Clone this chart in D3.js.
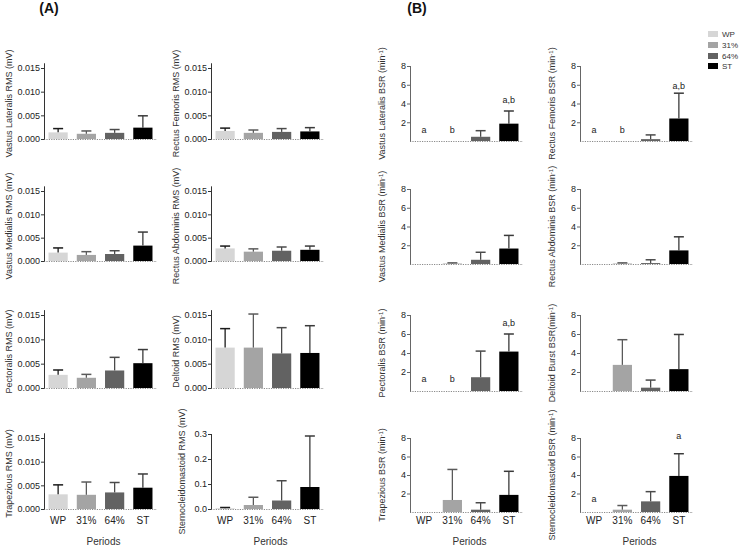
<!DOCTYPE html>
<html><head><meta charset="utf-8">
<script src="https://cdn.jsdelivr.net/npm/d3@7"></script>
<style>body{margin:0;background:#fff} svg{font-family:"Liberation Sans",Arial,sans-serif}</style>
</head><body><svg id="c" width="740" height="547"></svg>
<script>
const periods = ["WP","31%","64%","ST"];
const barColors = ["#d6d6d6","#a4a4a4","#626262","#000000"];
const errColors = ["#1a1a1a","#5a5a5a","#4a4a4a","#3a3a3a"];

// Panel A: RMS (mV)
const rmsTitles = ["Vastus Lateralis RMS  (mV)","Rectus Femoris RMS (mV)","Vastus Medialis RMS (mV)","Rectus Abdominis  RMS (mV)","Pectoralis  RMS (mV)","Deltoid RMS (mV)","Trapezious  RMS (mV)","Sternocleidomastoid RMS (mV)"];
const rmsMeans = [
  [0.0014,0.0011,0.0013,0.0024],
  [0.0017,0.0013,0.0015,0.0016],
  [0.0018,0.0013,0.0015,0.0033],
  [0.0027,0.0020,0.0022,0.0024],
  [0.0027,0.0021,0.0036,0.0051],
  [0.0083,0.0083,0.0071,0.0072],
  [0.0031,0.0030,0.0035,0.0045],
  [0.003,0.016,0.034,0.088]
];
const rmsSD = [
  [0.0008,0.0006,0.0007,0.0025],
  [0.0006,0.0006,0.0007,0.0008],
  [0.0010,0.0007,0.0007,0.0029],
  [0.0005,0.0006,0.0008,0.0008],
  [0.0010,0.0007,0.0027,0.0028],
  [0.0039,0.0069,0.0053,0.0056],
  [0.0020,0.0027,0.0021,0.0029],
  [0.003,0.031,0.079,0.204]
];
const rmsTicks = [0,0.005,0.010,0.015];
const scmTicks = [0,0.1,0.2,0.3];

// Panel B: BSR (min^-1)
const bsrTitles = ["Vastus Lateralis BSR (min","Rectus Femoris BSR (min","Vastus Medialis BSR (min","Rectus Abdominis BSR (min","Pectoralis BSR (min","Deltoid Burst BSR(min","Trapezious BSR (min","Sternocleidomastoid BSR (min"];
const bsrMeans = [
  [0,0,0.45,1.85],
  [0,0,0.2,2.4],
  [0,0.05,0.45,1.65],
  [0,0.05,0.1,1.45],
  [0,0,1.45,4.15],
  [0,2.75,0.35,2.3],
  [0,1.3,0.25,1.85],
  [0,0.25,1.15,3.9]
];
const bsrSD = [
  [0,0,0.65,1.35],
  [0,0,0.45,2.7],
  [0,0.07,0.8,1.4],
  [0,0.07,0.35,1.45],
  [0,0,2.75,1.85],
  [0,2.65,0.8,3.65],
  [0,3.3,0.75,2.55],
  [0,0.45,1.05,2.4]
];
const bsrTicks = [2,4,6,8];
// significance letters: [chart, period index, text, value height]
const bsrLetters = [
  [0,0,"a",1.2],[0,1,"b",1.2],[0,3,"a,b",4.4],
  [1,0,"a",1.2],[1,1,"b",1.2],[1,3,"a,b",5.9],
  [4,0,"a",1.3],[4,1,"b",1.3],[4,3,"a,b",7.2],
  [7,0,"a",1.4],[7,3,"a",8.2]
];

const svg = d3.select("#c");
const W = 113;
const colXA = [44,211], colXB = [410,580];
const rowA = [[68,139],[191,261],[315,388],[438,509]];
const rowB = [[66,141],[189,264],[315,391],[438,512]];

function drawChart(x0, yTop, yBase, domainMax, ticks, tickTopVal, fmt, means, sds, title, isBSR, titleX, showX, letters){
  const g = svg.append("g");
  const y = d3.scaleLinear().domain([0, tickTopVal]).range([yBase, yTop]);
  const x = d3.scaleBand().domain(periods).range([x0, x0+W]).paddingInner(0.32).paddingOuter(0.16);
  g.append("line").attr("x1",x0).attr("x2",x0+W).attr("y1",yBase+0.5).attr("y2",yBase+0.5)
    .attr("stroke","#8a8a8a").attr("stroke-width",1).attr("stroke-dasharray","1.2,1.2");
  periods.forEach((p,i)=>{
    const m = means[i], s = sds[i];
    const bx = x(p), bw = x.bandwidth();
    const top = y(m);
    if (m > 0) {
      g.append("rect").attr("x",bx).attr("y",top).attr("width",bw).attr("height",yBase-top)
        .attr("fill",barColors[i]);
    }
    if (s > 0) {
      const et = y(m+s), cx = bx+bw/2;
      g.append("line").attr("x1",cx).attr("x2",cx).attr("y1",top).attr("y2",et)
        .attr("stroke",errColors[i]).attr("stroke-width",1.3);
      g.append("line").attr("x1",cx-5).attr("x2",cx+5).attr("y1",et).attr("y2",et)
        .attr("stroke",errColors[i]).attr("stroke-width",1.5);
    }
  });
  const ax = d3.axisLeft(y).tickValues(ticks).tickSize(3).tickPadding(1).tickFormat(fmt);
  const ag = g.append("g").attr("transform",`translate(${x0},0)`).call(ax);
  ag.select(".domain").remove();
  ag.append("line").attr("x1",0.5).attr("x2",0.5).attr("y1",y(domainMax)).attr("y2",yBase+0.5)
    .attr("stroke", isBSR ? "#666" : "#333").attr("stroke-width",1);
  ag.selectAll(".tick line").attr("stroke", isBSR ? "#666" : "#333");
  ag.selectAll("text").attr("font-size",9).attr("fill","#222").attr("font-family","Liberation Sans, Arial, sans-serif");
  const t = g.append("text").attr("transform",`translate(${titleX},${(yTop+yBase)/2}) rotate(-90)`)
    .attr("text-anchor","middle").attr("dy","0.35em").attr("font-size",9).attr("fill","#333");
  if (isBSR) {
    t.append("tspan").text(title);
    t.append("tspan").attr("font-size",6).attr("dy","-0.4em").text("-1");
    t.append("tspan").attr("dy","0.25em").text(")");
  } else t.text(title);
  (letters||[]).forEach(L=>{
    g.append("text").attr("x",x(periods[L[1]])+x.bandwidth()/2).attr("y",y(L[3])).attr("dy","0.35em")
      .attr("text-anchor","middle").attr("font-size",9).attr("fill","#222").text(L[2]);
  });
  if (showX) {
    periods.forEach(p=>{
      g.append("text").attr("x",x(p)+x.bandwidth()/2).attr("y",524).attr("text-anchor","middle")
        .attr("font-size",10).attr("fill","#222").text(p);
    });
    g.append("text").attr("x",x0+W/2+3).attr("y",545).attr("text-anchor","middle")
      .attr("font-size",10).attr("fill","#333").text("Periods");
  }
}

for (let k=0;k<8;k++){
  const r = Math.floor(k/2), c = k%2;
  const isScm = (k===7);
  const [aTop,aBase] = rowA[r];
  if (isScm) {
    drawChart(colXA[c], aTop-4, aBase, 0.3, scmTicks, 0.3, d3.format(".1f"), rmsMeans[k], rmsSD[k], rmsTitles[k], false, colXA[c]-29, r===3, null);
  } else {
    drawChart(colXA[c], aTop, aBase, 0.016, rmsTicks, 0.015, d3.format(".3f"), rmsMeans[k], rmsSD[k], rmsTitles[k], false, colXA[c]-35, r===3, null);
  }
  const [bTop,bBase] = rowB[r];
  drawChart(colXB[c], bTop, bBase, 8, bsrTicks, 8, d3.format("d"), bsrMeans[k], bsrSD[k], bsrTitles[k], true, colXB[c]-28, r===3,
    bsrLetters.filter(L=>L[0]===k));
}

svg.append("text").attr("x",49).attr("y",13).attr("text-anchor","middle").attr("font-size",14).attr("font-weight","bold").attr("fill","#111").text("(A)");
svg.append("text").attr("x",417).attr("y",13).attr("text-anchor","middle").attr("font-size",14).attr("font-weight","bold").attr("fill","#111").text("(B)");

const lg = svg.append("g");
periods.forEach((p,i)=>{
  const yy = [34,45,56,66][i];
  lg.append("rect").attr("x",708).attr("y",yy-3).attr("width",10).attr("height",6).attr("fill",barColors[i]);
  lg.append("text").attr("x",722).attr("y",yy).attr("dy","0.35em").attr("font-size",8).attr("fill","#333").text(p);
});
</script></body></html>
